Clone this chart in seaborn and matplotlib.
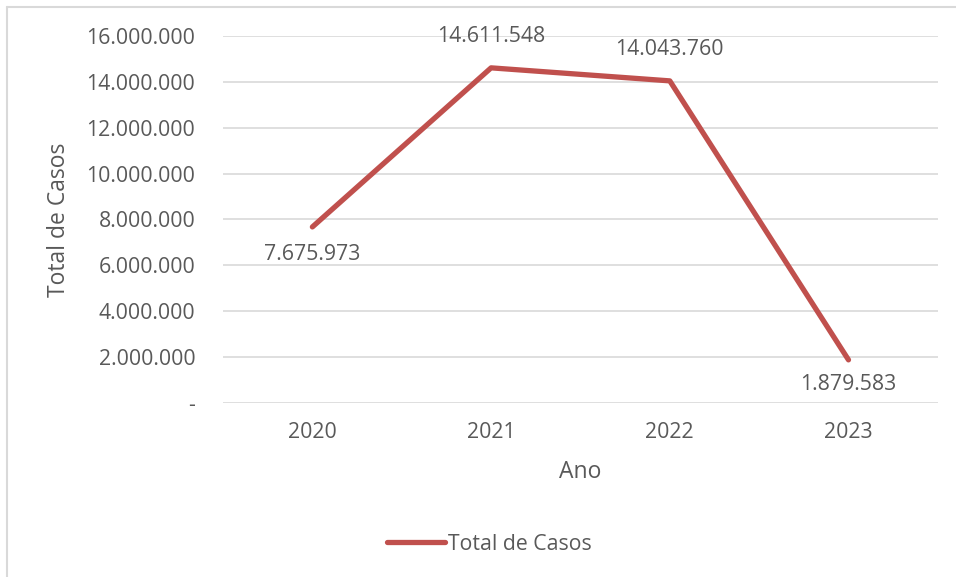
import matplotlib
matplotlib.use("Agg")
import matplotlib.pyplot as plt
from matplotlib.ticker import FuncFormatter
from matplotlib.lines import Line2D
import seaborn as sns
import pandas as pd

# Dados do gráfico
anos = ["2020", "2021", "2022", "2023"]
total_casos = [7675973, 14611548, 14043760, 1879583]
rotulo_serie = "Total de Casos"

# deslocamento dos rótulos (pontos), acima ou abaixo do ponto
desloc_rotulos = [-28, 31, 31, -25]

cor_linha = "#c0504d"
cor_texto = "#595959"
cor_grade = "#d9d9d9"
tam_fonte = 15.3

sns.set_theme(style="white")
plt.rcParams["font.family"] = ["Open Sans", "DejaVu Sans"]

df = pd.DataFrame({"Ano": anos, "Total": total_casos})

fig = plt.figure(figsize=(9.56, 5.77), dpi=100)
ax = fig.add_axes([0.2333, 0.3016, 0.7477, 0.636])

sns.lineplot(data=df, x="Ano", y="Total", color=cor_linha, linewidth=3.8,
             ax=ax, legend=False, solid_capstyle="round")

ax.set_xlim(-0.5, 3.5)
ax.set_ylim(0, 16000000)
ax.set_yticks(range(0, 16000001, 2000000))


def formata_milhar(v, pos):
    if v == 0:
        return "-"
    return f"{int(v):,}".replace(",", ".")


ax.yaxis.set_major_formatter(FuncFormatter(formata_milhar))
ax.grid(axis="y", color=cor_grade, linewidth=1.2)
ax.grid(axis="x", visible=False)
ax.set_axisbelow(True)
for lado in ax.spines.values():
    lado.set_visible(False)

ax.tick_params(axis="y", length=0, pad=20, labelsize=tam_fonte, labelcolor=cor_texto)
ax.tick_params(axis="x", length=0, pad=14, labelsize=tam_fonte, labelcolor=cor_texto)

ax.set_xlabel("Ano", fontsize=16.5, color=cor_texto, labelpad=12)
ax.set_ylabel("Total de Casos", fontsize=16.5, color=cor_texto)
ax.yaxis.set_label_coords(-0.213, 0.5)

# rótulos de dados
for i, (ano, valor) in enumerate(zip(anos, total_casos)):
    ax.annotate(formata_milhar(valor, None), (i, valor),
                xytext=(0, desloc_rotulos[i]), textcoords="offset pixels",
                ha="center", va="center", fontsize=tam_fonte, color=cor_texto)

# legenda embaixo
handle = Line2D([], [], color=cor_linha, linewidth=3.8, solid_capstyle="round")
leg = fig.legend([handle], [rotulo_serie], loc="center", bbox_to_anchor=(0.512, 0.057),
                 frameon=False, fontsize=tam_fonte, handlelength=2.7, handletextpad=0.15)
for t in leg.get_texts():
    t.set_color(cor_texto)

# borda do gráfico (só esquerda e topo visíveis)
fig.add_artist(Line2D([0.0073, 0.0073], [0, 0.988], color="#d9d9d9", linewidth=1.5,
                      transform=fig.transFigure))
fig.add_artist(Line2D([0.0073, 1.0], [0.988, 0.988], color="#d9d9d9", linewidth=1.5,
                      transform=fig.transFigure))

fig.savefig("out.png", dpi=100, facecolor="white")
